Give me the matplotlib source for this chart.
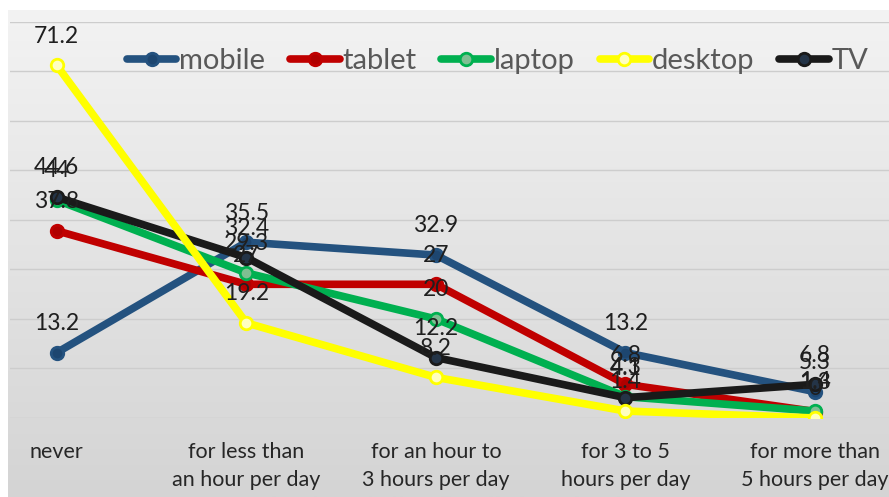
import matplotlib.pyplot as plt
import numpy as np

plt.rcParams['font.family'] = ['Lato', 'DejaVu Sans']

categories = ["never", "for less than\nan hour per day", "for an hour to\n3 hours per day",
              "for 3 to 5\nhours per day", "for more than\n5 hours per day"]
mobile = [13.2, 35.5, 32.9, 13.2, 5.3]
tablet = [37.8, 27, 27, 6.8, 1.3]
laptop = [44, 29.3, 20, 4.3, 1.4]
desktop = [71.2, 19.2, 8.2, 1.4, 0]
tv = [44.6, 32.4, 12.2, 4.1, 6.8]

series = [
    ("mobile", mobile, "#24527f", "#1d4670"),
    ("tablet", tablet, "#c00000", "#b00000"),
    ("laptop", laptop, "#00b050", "#7fbf92"),
    ("TV", tv, "#1a1a1a", "#243447"),
    ("desktop", desktop, "#ffff00", "#ffffc0"),
]
legend_order = ["mobile", "tablet", "laptop", "desktop", "TV"]

fig = plt.figure(figsize=(8.89, 4.97), dpi=100)

# gradient background of the chart area
bg = fig.add_axes([0.009, 0, 0.991, 0.98])
grad = np.linspace(0, 1, 256).reshape(-1, 1)
bg.imshow(grad, aspect="auto", cmap=plt.matplotlib.colors.LinearSegmentedColormap.from_list(
    "g", ["#f3f3f3", "#d4d4d4"]), extent=[0, 1, 0, 1], origin="upper")
bg.axis("off")

ax = fig.add_axes([0.011, 0.159, 0.989, 0.797])
ax.patch.set_alpha(0)
x = np.arange(len(categories))

handles = {}
for name, vals, color, center in series:
    ln, = ax.plot(x, vals, color=color, lw=5.5, marker="o", ms=9,
                  mfc=center, mec=color, mew=2, solid_capstyle="round",
                  solid_joinstyle="round", label=name)
    handles[name] = ln

for name, vals, color, center in series:
    for xi, v in zip(x, vals):
        ax.annotate(f"{v:g}", (xi, v), xytext=(0, 21), textcoords="offset points",
                    ha="center", va="center", fontsize=16.5, color="#1f1f1f", zorder=10)

ax.set_xlim(-0.248, 4.39)
ax.set_ylim(0, 80)
ax.set_yticks(np.arange(0, 81, 10))
ax.yaxis.grid(True, color="#cdcdcd", lw=1)
ax.set_axisbelow(True)
ax.tick_params(axis="y", left=False, labelleft=False)
ax.set_xticks(x)
ax.set_xticklabels(categories, fontsize=15.5, color="#262626", linespacing=1.55)
ax.tick_params(axis="x", length=0, pad=17)
for s in ax.spines.values():
    s.set_visible(False)

ax.legend([handles[n] for n in legend_order], legend_order, loc="upper center",
          bbox_to_anchor=(0.555, 1.0), ncol=5, frameon=False, fontsize=21,
          handlelength=1.7, handletextpad=0.1, columnspacing=0.85, labelcolor="#595959")

fig.savefig("out.png", dpi=100)
